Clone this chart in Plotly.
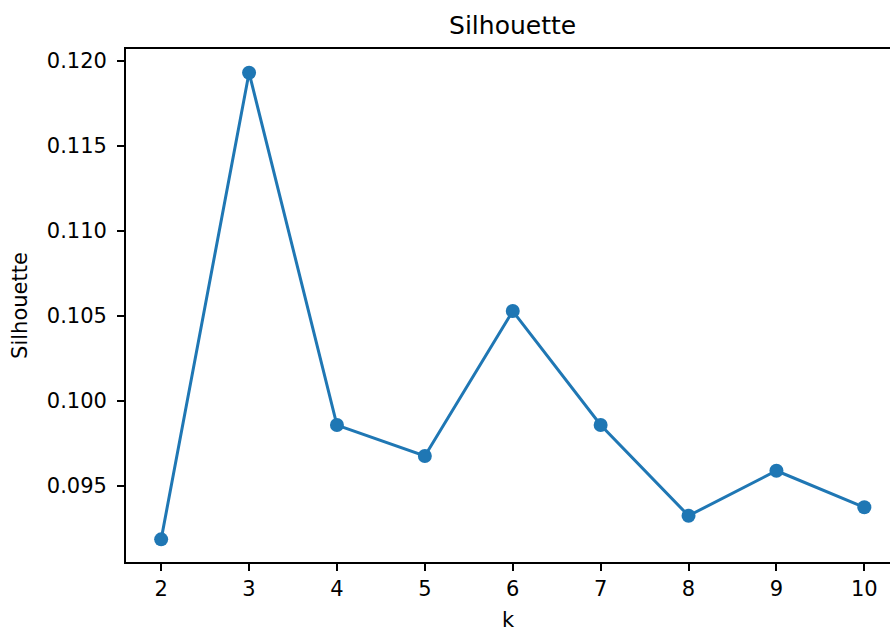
import plotly.graph_objects as go

k_values = [2, 3, 4, 5, 6, 7, 8, 9, 10]
silhouette = [0.09184, 0.11931, 0.09857, 0.09675, 0.10528, 0.09857, 0.09323, 0.09588, 0.09373]
y_ticks = [0.095, 0.100, 0.105, 0.110, 0.115, 0.120]
y_tick_labels = ["0.095", "0.100", "0.105", "0.110", "0.115", "0.120"]

W, H = 890, 632
L, T, B = 126, 49, 70
FONT = "DejaVu Sans"

fig = go.Figure()
fig.add_trace(go.Scatter(
    x=k_values, y=silhouette, mode="lines+markers",
    line=dict(color="#1f77b4", width=3),
    marker=dict(color="#1f77b4", size=14),
    showlegend=False,
))

fig.update_layout(
    width=W, height=H,
    margin=dict(l=L, r=0, t=T, b=B, pad=0),
    paper_bgcolor="white", plot_bgcolor="white",
    font=dict(family=FONT, size=21, color="#000000"),
    title=dict(text="Silhouette", font=dict(family=FONT, size=25, color="#000000"),
               x=512.6 / W, xref="container", xanchor="center",
               y=1 - 25 / H, yref="container", yanchor="middle"),
    xaxis=dict(
        range=[1.6, 10.292], tickmode="array", tickvals=k_values,
        ticktext=[str(k) for k in k_values],
        showgrid=False, zeroline=False,
        showline=True, linecolor="#000000", linewidth=1.7, mirror=True,
        ticks="outside", ticklen=7, tickwidth=1.7, tickcolor="#000000",
        tickfont=dict(family=FONT, size=21, color="#000000"),
        title=dict(text="k", font=dict(family=FONT, size=21, color="#000000"), standoff=13),
    ),
    yaxis=dict(
        range=[0.090508, 0.120706], tickmode="array", tickvals=y_ticks,
        ticktext=y_tick_labels,
        showgrid=False, zeroline=False,
        showline=True, linecolor="#000000", linewidth=1.7, mirror=False,
        ticks="outside", ticklen=7, tickwidth=1.7, tickcolor="#000000",
        ticklabelstandoff=6,
        tickfont=dict(family=FONT, size=21, color="#000000"),
        title=dict(text="Silhouette", font=dict(family=FONT, size=21, color="#000000"), standoff=13),
    ),
)

fig.write_html("out.html", config={"displayModeBar": False},
               post_script="document.body.style.margin='0px';")
